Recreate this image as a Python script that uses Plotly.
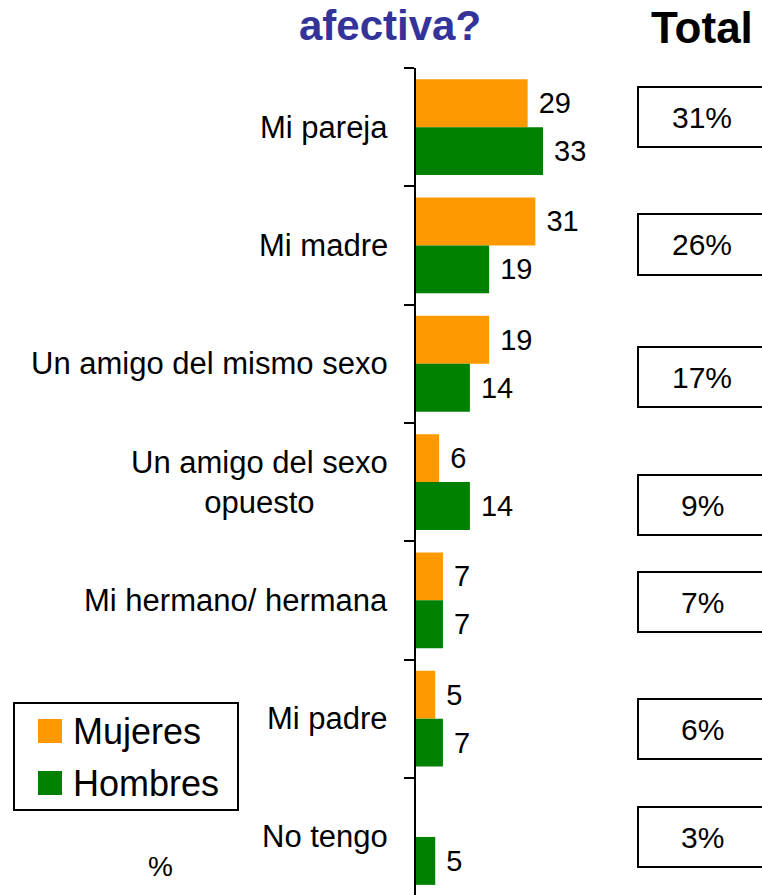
import plotly.graph_objects as go

# ---- data ----
categories = ["Mi pareja", "Mi madre", "Un amigo del mismo sexo",
              "Un amigo del sexo<br>opuesto", "Mi hermano/ hermana",
              "Mi padre", "No tengo"]
mujeres = [29, 31, 19, 6, 7, 5, None]
hombres = [33, 19, 14, 14, 7, 7, 5]
totales = [31, 26, 17, 9, 7, 6, 3]
series_names = ["Mujeres", "Hombres"]
title_tail = "afectiva?"
total_header = "Total"
unit_label = "%"

# ---- layout constants (pixels) ----
W, H = 762, 895
AX_X = 416          # y-axis line position
PLOT_RIGHT = 620
PLOT_TOP = 68
PX_PER_UNIT = 3.85
BAND = 118.3
total_boxes_y = [(87, 147), (214, 275), (347, 407), (475, 535),
                 (572, 632), (699, 759), (807, 867)]

ORANGE = "#FF9900"
GREEN = "#008000"
FONT = "Liberation Sans, Arial, sans-serif"


def px(x):
    return x / W


def py(y):
    return 1 - y / H


fig = go.Figure()
fig.add_trace(go.Bar(
    name=series_names[0], y=categories, x=mujeres, orientation="h",
    marker=dict(color=ORANGE, line=dict(width=0)),
    texttemplate="\u00a0%{x}", textposition="outside",
    textfont=dict(size=29, color="black", family=FONT),
    constraintext="none", cliponaxis=False, showlegend=False,
))
fig.add_trace(go.Bar(
    name=series_names[1], y=categories, x=hombres, orientation="h",
    marker=dict(color=GREEN, line=dict(width=0)),
    texttemplate="\u00a0%{x}", textposition="outside",
    textfont=dict(size=29, color="black", family=FONT),
    constraintext="none", cliponaxis=False, showlegend=False,
))

plot_h = H - PLOT_TOP
n_bands = plot_h / BAND
x_max = (PLOT_RIGHT - AX_X) / PX_PER_UNIT

shapes = []
annotations = []

# category labels
for c in categories:
    annotations.append(dict(
        x=px(390), xref="paper", y=c, yref="y", xanchor="right",
        yanchor="middle", text=c, showarrow=False, align="center",
        font=dict(size=31, color="black", family=FONT)))

# totals boxes
for t, (y0, y1) in zip(totales, total_boxes_y):
    shapes.append(dict(type="rect", xref="paper", yref="paper",
                       x0=px(638), x1=px(772), y0=py(y0), y1=py(y1),
                       line=dict(color="black", width=2), fillcolor="white"))
    annotations.append(dict(
        x=px(702), xref="paper", y=py((y0 + y1) / 2), yref="paper",
        xanchor="center", yanchor="middle", text=f"{t}%", showarrow=False,
        font=dict(size=30, color="black", family=FONT)))

# title fragment and Total header
annotations.append(dict(x=px(390), y=py(0), xref="paper", yref="paper",
                        xanchor="center", yanchor="top", text=f"<b>{title_tail}</b>",
                        showarrow=False,
                        font=dict(size=42, color="#333399", family=FONT)))
annotations.append(dict(x=px(702), y=py(27), xref="paper", yref="paper",
                        xanchor="center", yanchor="middle", text=f"<b>{total_header}</b>",
                        showarrow=False,
                        font=dict(size=44, color="black", family=FONT)))
annotations.append(dict(x=px(160), y=py(866), xref="paper", yref="paper",
                        xanchor="center", yanchor="middle", text=unit_label,
                        showarrow=False,
                        font=dict(size=28, color="black", family=FONT)))

# manual legend
shapes.append(dict(type="rect", xref="paper", yref="paper",
                   x0=px(14), x1=px(238), y0=py(703), y1=py(810),
                   line=dict(color="black", width=2), fillcolor="white"))
for name, col, (sy0, sy1) in zip(series_names, [ORANGE, GREEN],
                                 [(719, 743), (771, 795)]):
    shapes.append(dict(type="rect", xref="paper", yref="paper",
                       x0=px(38), x1=px(62), y0=py(sy0), y1=py(sy1),
                       line=dict(width=0), fillcolor=col))
    annotations.append(dict(x=px(71), y=py((sy0 + sy1) / 2), xref="paper", yref="paper",
                            xanchor="left", yanchor="middle", text=name,
                            showarrow=False,
                            font=dict(size=36, color="black", family=FONT)))

fig.update_layout(
    width=W, height=H, autosize=False,
    margin=dict(l=0, r=0, t=0, b=0, pad=0),
    paper_bgcolor="white", plot_bgcolor="white",
    barmode="group", bargap=0.19, bargroupgap=0,
    font=dict(family=FONT, color="black"),
    xaxis=dict(domain=[px(AX_X), px(PLOT_RIGHT)], range=[0, x_max],
               visible=False, fixedrange=True),
    yaxis=dict(domain=[0, py(PLOT_TOP)], range=[n_bands - 0.5, -0.5],
               type="category", categoryorder="array", categoryarray=categories,
               showline=True, linecolor="black", linewidth=2,
               ticks="outside", ticklen=10, tickwidth=2, tickcolor="black",
               tickson="boundaries", showticklabels=False, showgrid=False,
               zeroline=False, fixedrange=True),
    shapes=shapes, annotations=annotations,
    showlegend=False,
)

fig.write_html(
    "out.html",
    config={"displayModeBar": False},
    post_script="document.body.style.margin='0';document.body.style.padding='0';"
                "document.body.style.overflow='hidden';",
)
